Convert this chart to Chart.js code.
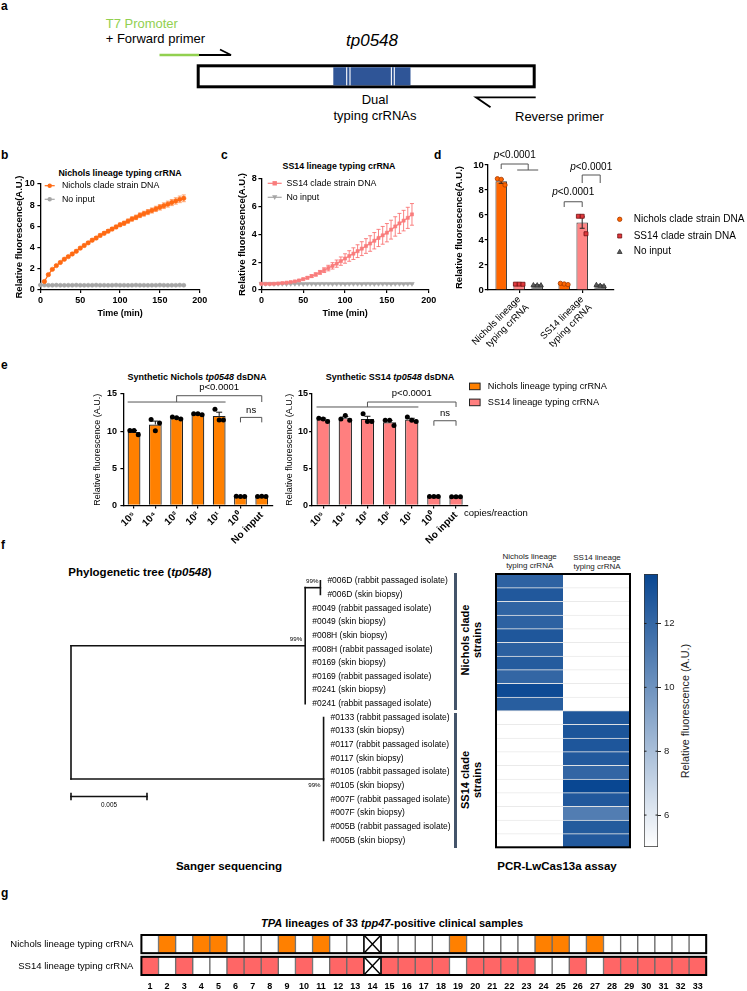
<!DOCTYPE html>
<html>
<head>
<meta charset="utf-8">
<title>tp0548 lineage typing</title>
<script src="https://cdn.jsdelivr.net/npm/chart.js@4.4.1/dist/chart.umd.min.js"></script>
<style>
  html, body { margin: 0; padding: 0; background: #fff; }
  #stage { position: relative; width: 747px; height: 991px; overflow: hidden;
           font-family: "Liberation Sans", Arial, Helvetica, sans-serif; color: #000; }
  .t { position: absolute; white-space: nowrap; line-height: 1; }
</style>
</head>
<body>
<div id="stage">
  <svg width="747" height="130" style="position:absolute;left:0;top:0">
    <line x1="159.5" y1="55" x2="199" y2="55" stroke="#92D050" stroke-width="2.6"/>
    <polyline points="199,55 231,55 220,49.5" fill="none" stroke="#000" stroke-width="1.8"/>
    <rect x="198.2" y="65.8" width="336" height="21" fill="#fff" stroke="#000" stroke-width="3"/>
    <rect x="333.3" y="67.3" width="77.2" height="18" fill="#2F5597"/>
    <g stroke="#fff" stroke-width="1.1">
      <line x1="346.7" y1="67.3" x2="346.7" y2="85.3"/>
      <line x1="350" y1="67.3" x2="350" y2="85.3"/>
      <line x1="391.4" y1="67.3" x2="391.4" y2="85.3"/>
      <line x1="394.3" y1="67.3" x2="394.3" y2="85.3"/>
    </g>
    <polyline points="535.7,97.3 476,97.3 490.5,107.3" fill="none" stroke="#000" stroke-width="1.8"/>
  </svg>
</div>
<script>
// ---- b: Nichols lineage crRNA kinetics ----
const times = [0,5,10,15,20,25,30,35,40,45,50,55,60,65,70,75,80,85,90,95,100,105,110,115,120,125,130,135,140,145,150,155,160,165,170,175,180];
const nicholsB = [null,0.80,1.45,1.95,2.30,2.60,2.90,3.15,3.40,3.65,3.95,4.20,4.45,4.70,4.90,5.15,5.35,5.55,5.75,5.95,6.15,6.30,6.50,6.70,6.85,7.05,7.20,7.35,7.50,7.65,7.80,7.95,8.10,8.25,8.40,8.55,8.65];
const nicholsBErr = [null,0.06,0.07,0.08,0.08,0.09,0.09,0.10,0.10,0.11,0.11,0.12,0.12,0.13,0.13,0.14,0.14,0.15,0.15,0.16,0.17,0.18,0.19,0.20,0.21,0.22,0.23,0.24,0.24,0.25,0.26,0.27,0.28,0.29,0.30,0.31,0.32];
const noInputB = [0.47,0.46,0.45,0.45,0.46,0.45,0.44,0.45,0.45,0.46,0.45,0.44,0.45,0.45,0.46,0.45,0.45,0.44,0.45,0.46,0.45,0.45,0.44,0.45,0.46,0.45,0.45,0.44,0.45,0.45,0.46,0.45,0.44,0.45,0.45,0.46,0.45];
const noInputBErr = 0.05;

// ---- c: SS14 lineage crRNA kinetics ----
const ss14C = [0.45,0.44,0.44,0.45,0.47,0.50,0.53,0.57,0.62,0.69,0.78,0.88,1.00,1.12,1.27,1.43,1.58,1.74,1.90,2.08,2.27,2.45,2.62,2.80,2.98,3.17,3.35,3.55,3.75,3.94,4.13,4.35,4.58,4.80,5.00,5.20,5.45];
const ss14CErr = [0.03,0.03,0.03,0.03,0.03,0.04,0.04,0.05,0.05,0.06,0.07,0.08,0.10,0.12,0.14,0.17,0.20,0.23,0.26,0.30,0.34,0.38,0.42,0.46,0.50,0.53,0.56,0.59,0.62,0.64,0.66,0.68,0.70,0.72,0.74,0.76,0.78];
const noInputC = [0.46,0.45,0.45,0.44,0.45,0.45,0.44,0.45,0.45,0.45,0.44,0.45,0.45,0.44,0.45,0.45,0.45,0.44,0.45,0.45,0.44,0.45,0.45,0.45,0.44,0.45,0.45,0.44,0.45,0.45,0.45,0.44,0.45,0.45,0.44,0.45,0.45];
const noInputCErr = 0.03;

// ---- d: end-point fluorescence ----
const dCats = [['Nichols lineage', 'typing crRNA'], ['SS14 lineage', 'typing crRNA']];
const dNicholsDNA = [8.7, 0.48];
const dNicholsDNAErr = [0.16, 0.03];
const dNicholsDNAReps = [[8.9, 8.85, 8.4], [0.53, 0.48, 0.43]];
const dSS14DNA = [0.46, 5.4];
const dSS14DNAErr = [0.02, 0.46];
const dSS14DNAReps = [[0.47, 0.47, 0.46], [5.9, 5.9, 4.5]];
const dNoInput = [0.4, 0.38];
const dNoInputErr = [0.02, 0.03];
const dNoInputReps = [[0.41, 0.4, 0.4], [0.43, 0.37, 0.33]];

// ---- e: synthetic dsDNA dilutions ----
const eCats = ['10\u2075', '10\u2074', '10\u00B3', '10\u00B2', '10\u00B9', '10\u2070', 'No input'];
const nicholsSynth = [9.9, 10.9, 11.75, 12.3, 12.05, 1.2, 1.2];
const nicholsSynthErr = [0.18, 0.45, 0.08, 0.05, 0.5, 0.02, 0.02];
const nicholsSynthReps = [[10.1,10.1,9.5],[11.55,10.05,11.1],[11.9,11.8,11.65],[12.35,12.35,12.2],[12.95,11.5,11.5],[1.22,1.2,1.2],[1.2,1.22,1.2]];
const ss14Synth = [11.6, 11.75, 11.65, 11.2, 11.55, 1.2, 1.15];
const ss14SynthErr = [0.15, 0.2, 0.35, 0.25, 0.18, 0.02, 0.02];
const ss14SynthReps = [[11.75,11.65,11.3],[11.65,12.1,11.45],[12.35,11.3,11.3],[11.45,11.45,10.75],[11.9,11.45,11.3],[1.2,1.2,1.2],[1.15,1.15,1.15]];

// ---- f: tree + heatmap ----
const nicholsLeaves = ['#006D (rabbit passaged isolate)', '#006D (skin biopsy)', '#0049 (rabbit passaged isolate)', '#0049 (skin biopsy)', '#008H (skin biopsy)', '#008H (rabbit passaged isolate)', '#0169 (skin biopsy)', '#0169 (rabbit passaged isolate)', '#0241 (skin biopsy)', '#0241 (rabbit passaged isolate)'];
const ss14Leaves = ['#0133 (rabbit passaged isolate)', '#0133 (skin biopsy)', '#0117 (rabbit passaged isolate)', '#0117 (skin biopsy)', '#0105 (rabbit passaged isolate)', '#0105 (skin biopsy)', '#007F (rabbit passaged isolate)', '#007F (skin biopsy)', '#005B (rabbit passaged isolate)', '#005B (skin biopsy)'];
const branchNichols = 0.01541;
const branchSS14 = 0.01662;
const branch006D = 0.00100;
const scaleBarLen = 0.005;
const bootstrap = ['99%', '99%', '99%'];
const heatNichols = [12.25, 12.7, 12.15, 12.25, 12.75, 12.35, 12.55, 12.05, 13.35, 12.45, 5.0, 5.0, 5.0, 5.0, 5.0, 5.0, 5.0, 5.0, 5.0, 5.0];
const heatSS14 = [5.0, 5.0, 5.0, 5.0, 5.0, 5.0, 5.0, 5.0, 5.0, 5.0, 12.75, 12.85, 12.8, 12.65, 12.1, 13.5, 12.7, 11.0, 12.6, 12.65];
const heatMin = 5.0, heatMax = 13.55;
const heatTicks = [6, 8, 10, 12];

// ---- g: clinical samples ----
const gSamples = ['1','2','3','4','5','6','7','8','9','10','11','12','13','14','15','16','17','18','19','20','21','22','23','24','25','26','27','28','29','30','31','32','33'];
// 1 = positive, 0 = negative, -1 = invalid
const gNichols = [0,1,0,1,1,0,0,0,1,0,1,0,0,-1,0,0,0,0,1,0,0,0,0,1,1,0,1,0,0,0,0,0,0];
const gSS14    = [1,0,1,0,0,1,1,1,0,1,0,1,1,-1,1,1,1,1,0,1,1,1,1,0,0,1,0,1,1,1,1,1,1];

// ================= helpers =================
const stage = document.getElementById('stage');
const FONT = '"Liberation Sans", Arial, Helvetica, sans-serif';
Chart.defaults.font.family = FONT;
Chart.defaults.color = '#000';
Chart.defaults.animation = false;
Chart.defaults.events = [];
Chart.defaults.plugins.legend.display = false;
Chart.defaults.plugins.tooltip.enabled = false;

function T(x, y, html, css, anchor) {
  const d = document.createElement('div');
  d.className = 't';
  d.innerHTML = html;
  d.style.cssText += `left:${x}px;top:${y}px;` + (css || '');
  d.style.transform = anchor === 'c' ? 'translate(-50%,-50%)'
    : anchor === 'rot' ? 'translate(-50%,-50%) rotate(-90deg)'
    : 'translateY(-50%)';
  stage.appendChild(d);
  return d;
}

function mountChart(area, axes, pad, config, draw) {
  const yW = axes.yW || 0, xH = axes.xH || 0, rW = axes.rW || 0;
  const left = area.l - yW - pad.l, top = area.t - pad.t;
  const w = Math.ceil(area.r + rW + pad.r - left), h = Math.ceil(area.b + xH + pad.b - top);
  const box = document.createElement('div');
  box.style.cssText = `position:absolute;left:${left}px;top:${top}px;width:${w}px;height:${h}px`;
  const cv = document.createElement('canvas');
  cv.width = w; cv.height = h;
  cv.style.width = w + 'px'; cv.style.height = h + 'px';
  box.appendChild(cv);
  stage.appendChild(box);
  const P = (x, y) => [x - left, y - top];
  const o = config.options = config.options || {};
  o.responsive = false;
  o.layout = { padding: { left: pad.l, top: pad.t, right: w - (area.r - left) - rW, bottom: h - (area.b - top) - xH } };
  if (draw) {
    config.plugins = [{
      id: 'extra',
      beforeDatasetsDraw: c => { if (draw.before) draw.before(c, c.ctx, P); },
      afterDatasetsDraw: c => { if (draw.after) draw.after(c, c.ctx, P); },
      afterDraw: c => { if (draw.top) draw.top(c, c.ctx, P); }
    }];
  }
  return new Chart(cv, config);
}

const fixW = n => s => { s.width = n; s.paddingTop = 0; s.paddingBottom = 0; };
const fixH = n => s => { s.height = n; s.paddingLeft = 0; s.paddingRight = 0; };
const tickGrid = (offset) => ({ display: true, drawOnChartArea: false, drawTicks: true, tickLength: 3, color: '#000', lineWidth: 1.2, offset: !!offset });
const axisLine = { display: true, color: '#000', width: 1.3 };

function linAxis(min, max, step, title, fit, o = {}) {
  return {
    type: 'linear', min, max,
    ticks: { stepSize: step, font: { size: o.tickSize || 9, weight: o.tickWeight || 'bold' }, padding: o.tickPad == null ? 2 : o.tickPad, color: '#000' },
    grid: tickGrid(false),
    border: axisLine,
    title: { display: !!title, text: title, font: { size: o.titleSize || 9.5, weight: o.titleWeight || 'bold' }, padding: 0, color: '#000' },
    afterFit: fit
  };
}
function catAxis(fit, o = {}) {
  return {
    type: 'category', offset: true,
    ticks: { font: { size: o.size || 9, weight: o.weight || 'normal' }, minRotation: 45, maxRotation: 45, padding: 1, autoSkip: false, color: '#000' },
    grid: tickGrid(false),
    border: axisLine,
    afterFit: fit
  };
}

function marker(ctx, style, x, y, r, fill, stroke, lw) {
  ctx.beginPath();
  if (style === 'circle') ctx.arc(x, y, r, 0, Math.PI * 2);
  else if (style === 'rect') ctx.rect(x - r, y - r, 2 * r, 2 * r);
  else if (style === 'triangle') { ctx.moveTo(x, y - r); ctx.lineTo(x + r, y + r * 0.75); ctx.lineTo(x - r, y + r * 0.75); ctx.closePath(); }
  else if (style === 'triangleDown') { ctx.moveTo(x, y + r); ctx.lineTo(x + r, y - r * 0.75); ctx.lineTo(x - r, y - r * 0.75); ctx.closePath(); }
  if (fill) { ctx.fillStyle = fill; ctx.fill(); }
  if (stroke) { ctx.strokeStyle = stroke; ctx.lineWidth = lw || 1; ctx.stroke(); }
}

function drawErrorBars(chart, ctx) {
  const ys = chart.scales.y;
  chart.data.datasets.forEach((ds, di) => {
    if (ds.errors == null) return;
    const meta = chart.getDatasetMeta(di);
    ctx.save();
    ctx.strokeStyle = ds.errorColor || '#000';
    ctx.lineWidth = ds.errorWidth || 1;
    meta.data.forEach((el, i) => {
      const p = meta.controller.getParsed(i);
      const v = p ? p.y : null;
      const e = Array.isArray(ds.errors) ? ds.errors[i] : ds.errors;
      if (v == null || isNaN(v) || e == null) return;
      const x = el.x, cap = (ds.capWidth || 4) / 2;
      const yTop = ys.getPixelForValue(v + e);
      const yBot = ys.getPixelForValue(ds.errorUpOnly ? v : v - e);
      ctx.beginPath();
      ctx.moveTo(x, yTop); ctx.lineTo(x, yBot);
      ctx.moveTo(x - cap, yTop); ctx.lineTo(x + cap, yTop);
      if (!ds.errorUpOnly) { ctx.moveTo(x - cap, yBot); ctx.lineTo(x + cap, yBot); }
      ctx.stroke();
    });
    ctx.restore();
  });
}

function drawReps(chart, ctx) {
  const ys = chart.scales.y;
  chart.data.datasets.forEach((ds, di) => {
    if (!ds.reps) return;
    const meta = chart.getDatasetMeta(di);
    meta.data.forEach((el, i) => {
      const r = ds.reps[i];
      if (!r) return;
      r.forEach((v, k) => marker(ctx, ds.dotStyle, el.x + (k - 1) * el.width * 0.33, ys.getPixelForValue(v), ds.dotR, ds.dotFill, ds.dotStroke, 0.8));
    });
  });
}

function legendItem(ctx, P, it) {
  const [x, y] = P(it.x, it.y);
  ctx.save();
  if (it.line) { ctx.strokeStyle = it.line; ctx.lineWidth = 1.2; ctx.beginPath(); ctx.moveTo(x - it.lw / 2, y); ctx.lineTo(x + it.lw / 2, y); ctx.stroke(); }
  if (it.box) { ctx.fillStyle = it.box; ctx.fillRect(x - 5.3, y - 3.3, 10.6, 6.6); ctx.strokeStyle = '#222'; ctx.lineWidth = 1; ctx.strokeRect(x - 5.3, y - 3.3, 10.6, 6.6); }
  if (it.marker) marker(ctx, it.marker, x, y, it.r, it.fill, it.stroke, 0.8);
  ctx.fillStyle = '#000';
  ctx.font = `${it.size}px ${FONT}`;
  ctx.textBaseline = 'middle';
  ctx.textAlign = 'left';
  ctx.fillText(it.text, P(it.tx, 0)[0], y);
  ctx.restore();
}

function bracket(ctx, x1, x2, y, y1, y2) {
  ctx.beginPath();
  ctx.moveTo(x1, y1); ctx.lineTo(x1, y); ctx.lineTo(x2, y); ctx.lineTo(x2, y2);
  ctx.stroke();
}
function hline(ctx, x1, x2, y) { ctx.beginPath(); ctx.moveTo(x1, y); ctx.lineTo(x2, y); ctx.stroke(); }

function label(ctx, s, x, y, size, align, style) {
  ctx.font = `${style || ''} ${size}px ${FONT}`;
  ctx.fillStyle = '#000';
  ctx.textAlign = align || 'center';
  ctx.textBaseline = 'middle';
  ctx.fillText(s, x, y);
}
function pLabel(ctx, cx, cy, size, italic) {
  ctx.save();
  ctx.font = `${italic ? 'italic ' : ''}${size}px ${FONT}`;
  const wa = ctx.measureText('p').width;
  ctx.font = `${size}px ${FONT}`;
  const wb = ctx.measureText('<0.0001').width;
  const x0 = cx - (wa + wb) / 2;
  label(ctx, 'p', x0, cy, size, 'left', italic ? 'italic' : '');
  label(ctx, '<0.0001', x0 + wa, cy, size, 'left', '');
  ctx.restore();
}

function series(xs, ys, s) {
  return {
    data: xs.map((x, i) => ({ x, y: ys[i] })),
    showLine: true, borderColor: s.color, backgroundColor: s.color, borderWidth: 1.2,
    pointStyle: s.style, pointRadius: s.r, pointRotation: s.rot || 0, pointBorderWidth: 0.6,
    errors: s.errors, errorColor: s.errorColor, capWidth: 4, clip: false
  };
}

// ================= text =================
const B = 'font-weight:bold;';
T(1, 6, 'a', B + 'font-size:12px');
T(1, 155, 'b', B + 'font-size:12px');
T(221, 155, 'c', B + 'font-size:12px');
T(434, 155, 'd', B + 'font-size:12px');
T(1, 365, 'e', B + 'font-size:12px');
T(1, 545, 'f', B + 'font-size:12px');
T(1, 893, 'g', B + 'font-size:12px');

T(105.7, 22.7, 'T7 Promoter', 'color:#92D050;font-size:13px');
T(105.7, 38.3, '+ Forward primer', 'font-size:13px');
T(372, 40, 'tp0548', 'font-style:italic;font-size:17px', 'c');
T(375, 99.3, 'Dual', 'font-size:13px', 'c');
T(375, 115, 'typing crRNAs', 'font-size:13px', 'c');
T(515, 116, 'Reverse primer', 'font-size:13px');

T(120, 173, 'Nichols lineage typing crRNA', B + 'font-size:8.8px', 'c');
T(339, 166, 'SS14 lineage typing crRNA', B + 'font-size:8.8px', 'c');

T(197, 376.7, 'Synthetic Nichols <i>tp0548</i> dsDNA', B + 'font-size:9px', 'c');
T(390, 376.7, 'Synthetic SS14 <i>tp0548</i> dsDNA', B + 'font-size:9px', 'c');

T(68.3, 573.3, 'Phylogenetic tree (<i>tp0548</i>)', B + 'font-size:11.5px');
T(529.7, 556.7, 'Nichols lineage', 'font-size:8px;color:#222', 'c');
T(529.7, 566, 'typing crRNA', 'font-size:8px;color:#222', 'c');
T(597, 558.3, 'SS14 lineage', 'font-size:8px;color:#222', 'c');
T(597, 567.3, 'typing crRNA', 'font-size:8px;color:#222', 'c');
T(685, 710.8, 'Relative fluorescence (A.U.)', 'font-size:10.8px;color:#222', 'rot');
T(472, 640, 'Nichols clade<br>strains', B + 'font-size:11px;text-align:center;line-height:1.05', 'rot');
T(472, 780, 'SS14 clade<br>strains', B + 'font-size:11px;text-align:center;line-height:1.05', 'rot');
T(229, 866.7, 'Sanger sequencing', B + 'font-size:11.5px', 'c');
T(557, 866.7, 'PCR-LwCas13a assay', B + 'font-size:11.5px', 'c');
T(392, 923, '<i>TPA</i> lineages of 33 <i>tpp47</i>-positive clinical samples', B + 'font-size:11px', 'c');

[[573.3, 136.7], [713.3, 135]].forEach(([top, hgt]) => {
  const d = document.createElement('div');
  d.style.cssText = `position:absolute;left:453.5px;top:${top}px;width:3.5px;height:${hgt}px;background:#44546A`;
  stage.appendChild(d);
});

// ================= b =================
const ORANGE_LINE = '#FF6A13', GREY_LINE = '#A6A6A6', PINK_LINE = '#F97C7C';
mountChart({ l: 40.7, t: 184, r: 200, b: 290 }, { yW: 26.4, xH: 28.7 }, { l: 0, t: 8, r: 8, b: 0 }, {
  type: 'scatter',
  data: { datasets: [
    series(times, nicholsB, { color: ORANGE_LINE, style: 'circle', r: 2.2, errors: nicholsBErr, errorColor: 'rgba(255,150,90,0.85)' }),
    series(times, noInputB, { color: GREY_LINE, style: 'circle', r: 2, errors: noInputBErr, errorColor: '#C8C8C8' })
  ]},
  options: { scales: {
    x: linAxis(0, 200, 50, 'Time (min)', fixH(28.7), { titleSize: 9 }),
    y: linAxis(0, 10, 2, 'Relative fluorescence(A.U.)', fixW(26.4), { tickPad: 2.7 })
  }}
}, {
  before: drawErrorBars,
  top: (c, ctx, P) => {
    legendItem(ctx, P, { x: 50, y: 185.7, lw: 10, line: ORANGE_LINE, marker: 'circle', r: 2.2, fill: ORANGE_LINE, tx: 62.3, text: 'Nichols clade strain DNA', size: 8.8 });
    legendItem(ctx, P, { x: 50, y: 199.3, lw: 10, line: GREY_LINE, marker: 'circle', r: 2.2, fill: GREY_LINE, tx: 62.3, text: 'No input', size: 8.8 });
  }
});

// ================= c =================
mountChart({ l: 261.7, t: 179, r: 429, b: 290 }, { yW: 24.4, xH: 28.7 }, { l: 0, t: 8, r: 8, b: 0 }, {
  type: 'scatter',
  data: { datasets: [
    series(times, ss14C, { color: PINK_LINE, style: 'rect', r: 2.2, errors: ss14CErr, errorColor: 'rgba(249,110,110,0.85)' }),
    series(times, noInputC, { color: GREY_LINE, style: 'triangle', rot: 180, r: 2.6, errors: noInputCErr, errorColor: '#C8C8C8' })
  ]},
  options: { scales: {
    x: linAxis(0, 200, 50, 'Time (min)', fixH(28.7), { titleSize: 9 }),
    y: linAxis(0, 8, 2, 'Relative fluorescence(A.U.)', fixW(24.4), { tickPad: 1.7 })
  }}
}, {
  before: drawErrorBars,
  top: (c, ctx, P) => {
    legendItem(ctx, P, { x: 275, y: 183.3, lw: 14, line: PINK_LINE, marker: 'rect', r: 2.2, fill: PINK_LINE, tx: 286.7, text: 'SS14 clade strain DNA', size: 8.8 });
    legendItem(ctx, P, { x: 275, y: 197.3, lw: 14, line: GREY_LINE, marker: 'triangleDown', r: 2.6, fill: GREY_LINE, tx: 286.7, text: 'No input', size: 8.8 });
  }
});

// ================= d =================
const D_ORANGE = '#FF6600', D_PINK = '#FF8585', D_GREY = '#808080';
const dBar = (data, errors, reps, fill, dot) => ({
  data, backgroundColor: fill, borderColor: '#333', borderWidth: 1,
  barPercentage: 0.64, categoryPercentage: 0.857,
  errors, errorColor: '#222', errorUpOnly: false, capWidth: 5,
  reps, dotStyle: dot.style, dotR: dot.r, dotFill: dot.fill, dotStroke: dot.stroke
});
const dDots = [
  { style: 'circle', r: 2.2, fill: D_ORANGE, stroke: '#A33A00' },
  { style: 'rect', r: 2, fill: '#E0373C', stroke: '#6E1010' },
  { style: 'triangle', r: 2.4, fill: '#5A5A5A', stroke: '#333' }
];
mountChart({ l: 488, t: 165, r: 614, b: 290 }, { yW: 33.7, xH: 66 }, { l: 0, t: 25, r: 133, b: 0 }, {
  type: 'bar',
  data: { labels: dCats, datasets: [
    dBar(dNicholsDNA, dNicholsDNAErr, dNicholsDNAReps, D_ORANGE, dDots[0]),
    dBar(dSS14DNA, dSS14DNAErr, dSS14DNAReps, D_PINK, dDots[1]),
    dBar(dNoInput, dNoInputErr, dNoInputReps, D_GREY, dDots[2])
  ]},
  options: { scales: {
    x: catAxis(fixH(66), { size: 9.5 }),
    y: linAxis(0, 10, 2, 'Relative fluorescence(A.U.)', fixW(33.7), { tickPad: 1, tickSize: 9.5 })
  }}
}, {
  after: (c, ctx) => { drawErrorBars(c, ctx); drawReps(c, ctx); },
  top: (c, ctx, P) => {
    const y = v => c.scales.y.getPixelForValue(v);
    const bx = (ds, i) => c.getDatasetMeta(ds).data[i].x;
    ctx.save();
    ctx.strokeStyle = '#555'; ctx.lineWidth = 1;
    const mid = (bx(1, 0) + bx(2, 0)) / 2;
    bracket(ctx, bx(0, 0), mid, y(10.08), y(9.68), y(9.6));
    hline(ctx, bx(1, 0) - 2, bx(2, 0) + 1, y(9.6));
    pLabel(ctx, (bx(0, 0) + mid) / 2, y(10.8), 10, true);
    bracket(ctx, bx(0, 1), bx(1, 1), y(7.06), y(6.64), y(6.64));
    pLabel(ctx, (bx(0, 1) + bx(1, 1)) / 2, y(7.84), 10, true);
    bracket(ctx, bx(1, 1), bx(2, 1), y(9.2), y(8.56), y(8.56));
    pLabel(ctx, (bx(1, 1) + bx(2, 1)) / 2, y(9.84), 10, true);
    ctx.restore();
    const names = ['Nichols clade strain DNA', 'SS14 clade strain DNA', 'No input'];
    [219.3, 236, 251.7].forEach((yy, k) => legendItem(ctx, P, { x: 620, y: yy, marker: dDots[k].style, r: dDots[k].r, fill: dDots[k].fill, stroke: dDots[k].stroke, tx: 634, text: names[k], size: 10 }));
  }
});

// ================= e =================
const E_ORANGE = '#FF8000', E_PINK = '#FF7F7F';
function eChart(area, yW, padR, values, errors, reps, fill, drawTop) {
  return mountChart(area, { yW, xH: 46 }, { l: 0, t: 32, r: padR, b: 0 }, {
    type: 'bar',
    data: { labels: eCats, datasets: [{
      data: values, backgroundColor: fill, borderColor: '#222', borderWidth: 1.2,
      barPercentage: 0.6, categoryPercentage: 1,
      errors, errorColor: '#111', errorUpOnly: true, capWidth: 6,
      reps, dotStyle: 'circle', dotR: 2.5, dotFill: '#000'
    }]},
    options: { scales: {
      x: catAxis(fixH(46), { size: 10, weight: 'bold' }),
      y: linAxis(0, 15, 5, 'Relative fluorescence (A.U.)', fixW(yW), { titleSize: 9, titleWeight: 'normal', tickPad: area.l > 200 ? 1 : 3.3 })
    }}
  }, { after: (c, ctx) => { drawErrorBars(c, ctx); drawReps(c, ctx); }, top: drawTop });
}
function eBrackets(longY, upY, pY, nsY, nsDrop, nsTextY) {
  return (c, ctx) => {
    const y = v => c.scales.y.getPixelForValue(v);
    const m = c.getDatasetMeta(0).data;
    ctx.save();
    ctx.strokeStyle = '#555'; ctx.lineWidth = 1;
    hline(ctx, m[0].x - m[0].width / 2, m[4].x + m[4].width / 2, y(longY));
    bracket(ctx, m[2].x, m[6].x, y(upY), y(longY), y(longY));
    label(ctx, 'p<0.0001', (m[2].x + m[6].x) / 2, y(pY), 9.5);
    bracket(ctx, m[5].x, m[6].x, y(nsY), y(nsDrop), y(nsDrop));
    label(ctx, 'ns', (m[5].x + m[6].x) / 2, y(nsTextY), 9.5);
    ctx.restore();
  };
}
eChart({ l: 123, t: 394.3, r: 272, b: 505.7 }, 31.4, 5, nicholsSynth, nicholsSynthErr, nicholsSynthReps, E_ORANGE,
  eBrackets(13.92, 14.77, 15.83, 11.85, 11.18, 12.79));
const eRightDraw = eBrackets(13.25, 13.92, 15.13, 11.4, 10.73, 12.44);
eChart({ l: 312, t: 394.3, r: 467, b: 505.7 }, 28.1, 280, ss14Synth, ss14SynthErr, ss14SynthReps, E_PINK,
  (c, ctx, P) => {
    eRightDraw(c, ctx);
    legendItem(ctx, P, { x: 474.7, y: 386.7, box: E_ORANGE, tx: 487.7, text: 'Nichols lineage typing crRNA', size: 9.2 });
    legendItem(ctx, P, { x: 474.7, y: 402.7, box: E_PINK, tx: 487.7, text: 'SS14 lineage typing crRNA', size: 9.2 });
  });
T(464, 513.3, 'copies/reaction', 'font-size:9.5px');

// ================= f: tree =================
const leaves = nicholsLeaves.concat(ss14Leaves);
const nRows = nicholsLeaves.map((_, i) => i);
const sRows = ss14Leaves.map((_, i) => i + nicholsLeaves.length);
const subTop = nRows[0], subBot = nRows[1], subMid = (subTop + subBot) / 2;
const nTop = subMid, nBot = nRows[nRows.length - 1], nMid = (nTop + nBot) / 2;
const sTop = sRows[0], sBot = sRows[sRows.length - 1], sMid = (sTop + sBot) / 2;
const subX = branchNichols + branch006D;
const scaleRow = 15.78;
const seg = (x1, y1, x2, y2) => ({ data: [{ x: x1, y: y1 }, { x: x2, y: y2 }], showLine: true, pointRadius: 0, borderColor: '#111', borderWidth: 1.6, borderCapStyle: 'square', clip: false });
const leafTip = i => i <= subBot ? subX : (i < nicholsLeaves.length ? branchNichols : branchSS14);
mountChart({ l: 70.7, t: 574, r: 340, b: 847.3 }, {}, { l: 10, t: 0, r: 110, b: 0 }, {
  type: 'scatter',
  data: { datasets: [
    seg(0, nMid, 0, sMid),
    seg(0, nMid, branchNichols, nMid),
    seg(branchNichols, nTop, branchNichols, nBot),
    seg(branchNichols, subMid, subX, subMid),
    seg(subX, subTop, subX, subBot),
    seg(0, sMid, branchSS14, sMid),
    seg(branchSS14, sTop, branchSS14, sBot),
    seg(0, scaleRow, scaleBarLen, scaleRow),
    seg(0, scaleRow - 0.22, 0, scaleRow + 0.22),
    seg(scaleBarLen, scaleRow - 0.22, scaleBarLen, scaleRow + 0.22)
  ]},
  options: { scales: {
    x: { type: 'linear', display: false, min: 0, max: 0.01772 },
    y: { type: 'linear', display: false, min: -0.5, max: 19.5, reverse: true }
  }}
}, {
  top: (c, ctx) => {
    const xs = c.scales.x, ys = c.scales.y;
    ctx.save();
    leaves.forEach((name, i) => label(ctx, name, xs.getPixelForValue(leafTip(i)) + 7, ys.getPixelForValue(i), 8.5, 'left'));
    label(ctx, bootstrap[0], xs.getPixelForValue(subX) - 2, ys.getPixelForValue(subMid) - 6.5, 6.2, 'right');
    label(ctx, bootstrap[1], xs.getPixelForValue(branchNichols) - 3, ys.getPixelForValue(nMid) - 6.5, 6.2, 'right');
    label(ctx, bootstrap[2], xs.getPixelForValue(branchSS14) - 3, ys.getPixelForValue(sMid) + 6.2, 6.2, 'right');
    label(ctx, String(scaleBarLen), xs.getPixelForValue(scaleBarLen / 2), ys.getPixelForValue(scaleRow) + 8.3, 6.4, 'center');
    ctx.restore();
  }
});

// ================= f: heatmap =================
const heatLow = [255, 255, 255], heatHigh = [8, 70, 145];
function heatColor(v) {
  const t = Math.max(0, Math.min(1, (v - heatMin) / (heatMax - heatMin)));
  const c = heatLow.map((a, k) => Math.round(a + (heatHigh[k] - a) * t));
  return `rgb(${c[0]},${c[1]},${c[2]})`;
}
const heatCell = vals => ({
  data: vals.map(() => 1), backgroundColor: vals.map(heatColor),
  borderColor: 'rgba(225,225,225,0.7)', borderWidth: { top: 1, bottom: 0, left: 0, right: 0 }, borderSkipped: false,
  barPercentage: 1, categoryPercentage: 1
});
mountChart({ l: 496, t: 574, r: 630, b: 847.3 }, {}, { l: 2, t: 2, r: 2, b: 2 }, {
  type: 'bar',
  data: { labels: leaves, datasets: [heatCell(heatNichols), heatCell(heatSS14)] },
  options: {
    indexAxis: 'y',
    scales: {
      x: { stacked: true, display: false, min: 0, max: 2 },
      y: { stacked: true, display: false }
    }
  }
}, {
  top: (c, ctx) => {
    const a = c.chartArea;
    ctx.save(); ctx.strokeStyle = '#000'; ctx.lineWidth = 2;
    ctx.strokeRect(a.left, a.top, a.right - a.left, a.bottom - a.top);
    ctx.restore();
  }
});

// colour bar
mountChart({ l: 644.3, t: 574, r: 658.3, b: 847 }, { rW: 24 }, { l: 1, t: 6, r: 0, b: 6 }, {
  type: 'bar',
  data: { labels: [''], datasets: [{
    data: [[heatMin, heatMax]],
    backgroundColor: ctx => {
      const a = ctx.chart.chartArea;
      if (!a) return heatColor(heatMax);
      const g = ctx.chart.ctx.createLinearGradient(0, a.bottom, 0, a.top);
      g.addColorStop(0, heatColor(heatMin));
      g.addColorStop(1, heatColor(heatMax));
      return g;
    },
    borderColor: '#333', borderWidth: 1, borderSkipped: false,
    barPercentage: 1, categoryPercentage: 1
  }]},
  options: { scales: {
    x: { display: false },
    y: {
      type: 'linear', position: 'right', min: heatMin, max: heatMax,
      afterBuildTicks: ax => { ax.ticks = heatTicks.map(v => ({ value: v })); },
      ticks: { font: { size: 9.5 }, padding: 3, color: '#222' },
      grid: { display: true, drawOnChartArea: false, drawTicks: true, tickLength: 3, color: '#222', lineWidth: 1 },
      border: { display: false },
      afterFit: fixW(24)
    }
  }}
}, {
  top: (c, ctx) => {
    // small inner tick marks on both edges of the bar
    const ys = c.scales.y, a = c.chartArea;
    ctx.save(); ctx.strokeStyle = '#222'; ctx.lineWidth = 1;
    heatTicks.forEach(v => {
      const y = ys.getPixelForValue(v);
      ctx.beginPath(); ctx.moveTo(a.left, y); ctx.lineTo(a.left + 2.5, y); ctx.moveTo(a.right - 2.5, y); ctx.lineTo(a.right, y); ctx.stroke();
    });
    ctx.restore();
  }
});

// ================= g =================
const G_ORANGE = '#FF8000', G_PINK = '#FF6666';
const rowNichols = [1.2, 2.2], rowSS14 = [0, 1];
const gRow = (calls, extent, color) => ({
  data: calls.map(() => extent),
  backgroundColor: calls.map(v => v === 1 ? color : '#fff'),
  borderColor: '#6a6a6a', borderWidth: 1, borderSkipped: false,
  grouped: false, barPercentage: 1, categoryPercentage: 1
});
mountChart({ l: 141.4, t: 935, r: 706.2, b: 975 }, { yW: 141.4, xH: 16 }, { l: 0, t: 3, r: 4, b: 0 }, {
  type: 'bar',
  data: { labels: gSamples, datasets: [gRow(gNichols, rowNichols, G_ORANGE), gRow(gSS14, rowSS14, G_PINK)] },
  options: { scales: {
    x: {
      type: 'category',
      ticks: { font: { size: 9, weight: 'bold' }, padding: 6, maxRotation: 0, autoSkip: false, color: '#000' },
      grid: { display: false, drawTicks: false }, border: { display: false },
      afterFit: fixH(16)
    },
    y: {
      type: 'linear', min: 0, max: 2.2,
      afterBuildTicks: ax => { ax.ticks = [{ value: (rowNichols[0] + rowNichols[1]) / 2 }, { value: (rowSS14[0] + rowSS14[1]) / 2 }]; },
      ticks: { font: { size: 9.5 }, padding: 8, color: '#000', callback: v => v > 1 ? 'Nichols lineage typing crRNA' : 'SS14 lineage typing crRNA' },
      grid: { display: false, drawTicks: false }, border: { display: false },
      afterFit: fixW(141.4)
    }
  }}
}, {
  top: (c, ctx) => {
    const xs = c.scales.x, ys = c.scales.y;
    ctx.save();
    ctx.strokeStyle = '#000';
    gNichols.forEach((v, i) => {
      if (v !== -1) return;
      [0, 1].forEach(di => {
        const el = c.getDatasetMeta(di).data[i];
        const l = el.x - el.width / 2, r = el.x + el.width / 2;
        const t = Math.min(el.y, el.base), b = Math.max(el.y, el.base);
        ctx.lineWidth = 1.4;
        ctx.strokeRect(l, t, r - l, b - t);
        ctx.beginPath(); ctx.moveTo(l, t); ctx.lineTo(r, b); ctx.moveTo(r, t); ctx.lineTo(l, b); ctx.stroke();
      });
    });
    ctx.lineWidth = 2;
    [rowNichols, rowSS14].forEach(([a, b]) => {
      const y1 = ys.getPixelForValue(b), y2 = ys.getPixelForValue(a);
      ctx.strokeRect(xs.left, y1, xs.right - xs.left, y2 - y1);
    });
    ctx.restore();
  }
});
</script>
</body>
</html>
